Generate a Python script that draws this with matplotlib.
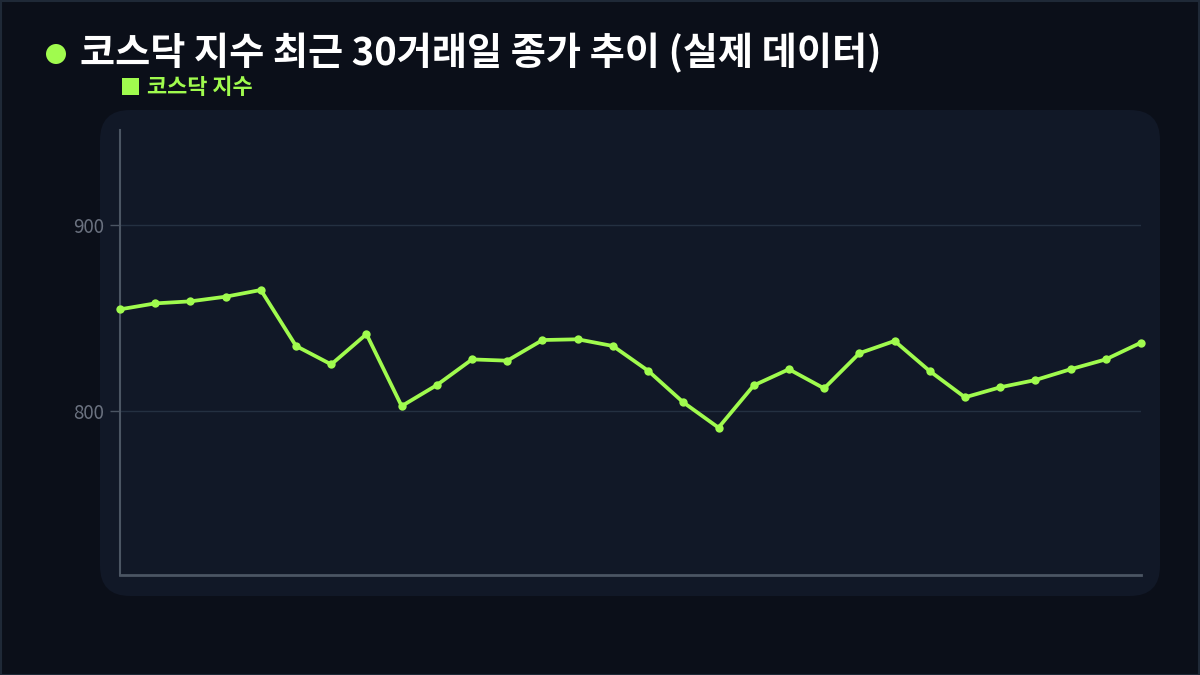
import numpy as np
import matplotlib.pyplot as plt
from matplotlib.patches import FancyBboxPatch, Rectangle, Ellipse

plt.rcParams['font.family'] = ['Noto Sans CJK KR', 'DejaVu Sans']

# 코스닥 지수 최근 30거래일 종가
days = list(range(1, 31))
close = [854.4, 857.6, 858.7, 861.2, 864.8, 834.7, 824.8, 841.1, 802.4, 813.7,
         827.5, 826.8, 837.9, 838.3, 834.7, 821.4, 804.4, 790.8, 813.5, 822.2,
         811.9, 830.8, 837.4, 821.2, 807.1, 812.5, 816.4, 822.2, 827.5, 836.5]
y_ticks = [800, 900]

title = "코스닥 지수 최근 30거래일 종가 추이 (실제 데이터)"
series_name = "코스닥 지수"

BG = "#0b0f19"
PANEL = "#111827"
LIME = "#a0fb4e"
GRID = "#243041"
TICK = "#6b7280"

W, H = 1200, 675
fig = plt.figure(figsize=(12, 6.75), dpi=100, facecolor=BG)

# outer border
fig.patches.append(Rectangle((0.5 / W, 0.5 / H), 1 - 1.5 / W, 1 - 1.5 / H,
                             transform=fig.transFigure, fill=False,
                             edgecolor="#1f2937", linewidth=1.5, zorder=-2))

# rounded panel behind the plot
fig.patches.append(FancyBboxPatch((100 / W, 1 - 596 / H), 1060 / W, 486 / H,
                                  boxstyle="round,pad=0,rounding_size=0.025",
                                  transform=fig.transFigure, facecolor=PANEL,
                                  edgecolor="none", mutation_aspect=W / H,
                                  zorder=-1))

# title with dot
fig.patches.append(Ellipse((56 / W, 1 - 54 / H), 20 / W, 20 / H,
                           transform=fig.transFigure, facecolor=LIME,
                           edgecolor="none"))
fig.text(80 / W, 1 - 53 / H, title, color="white", fontsize=27.5,
         fontweight="bold", va="center", ha="left")

# legend
fig.patches.append(Rectangle((122 / W, 1 - 95 / H), 17 / W, 17 / H,
                             transform=fig.transFigure, facecolor=LIME,
                             edgecolor="none"))
fig.text(147 / W, 1 - 87.5 / H, series_name, color=LIME, fontsize=15.8,
         fontweight="bold", va="center", ha="left")

ax = fig.add_axes([120 / W, 1 - 575 / H, 1021 / W, 445 / H])
ax.set_zorder(2)
ax.set_facecolor("none")
ax.plot(days, close, color=LIME, linewidth=2.7, marker="o", markersize=6,
        markeredgewidth=0, zorder=3, clip_on=False)

ax.set_xlim(days[0], days[-1])
ax.set_ylim(711.6, 950.8)
ax.set_yticks(y_ticks)
ax.set_xticks([])
ax.grid(axis="y", color=GRID, linewidth=1)
ax.tick_params(axis="y", colors="#4b5563", labelcolor=TICK, labelsize=13.5,
               length=7.2, width=1, pad=4)

for side in ["top", "right"]:
    ax.spines[side].set_visible(False)
ax.spines["left"].set_color("#4b5563")
ax.spines["left"].set_linewidth(1.5)
ax.spines["bottom"].set_color("#4b5563")
ax.spines["bottom"].set_linewidth(2)

fig.savefig("out.png", dpi=100, facecolor=BG)
